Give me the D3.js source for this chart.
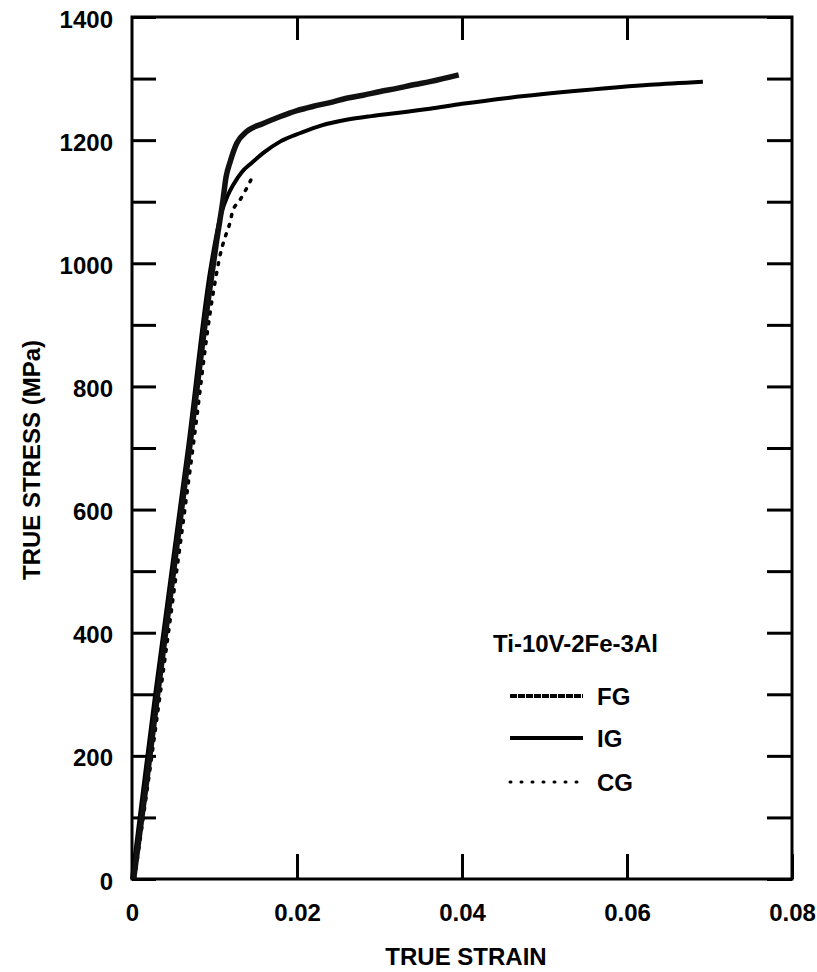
<!DOCTYPE html>
<html>
<head>
<meta charset="utf-8">
<script src="https://cdn.jsdelivr.net/npm/d3@7"></script>
<style>
  html, body { margin: 0; padding: 0; background: #fff; }
  svg { display: block; }
  text { font-family: "Liberation Sans", Arial, Helvetica, sans-serif; font-weight: bold; fill: #000; }
</style>
</head>
<body>
<svg id="chart" width="817" height="972"></svg>
<script>
// ---------- data ----------
const fgStrain = [0.0002, 0.0018, 0.0031, 0.0070, 0.0093, 0.0103, 0.0110, 0.0114, 0.0119, 0.0127, 0.0139, 0.0159, 0.0179, 0.0200, 0.0220, 0.0240, 0.0260, 0.0280, 0.0301, 0.0321, 0.0341, 0.0361, 0.0396];
const fgStress = [0, 161, 299, 702, 946, 1040, 1100, 1140, 1165, 1195, 1214, 1227, 1238, 1248, 1255, 1261, 1268, 1273, 1279, 1284, 1290, 1295, 1306];

const igStrain = [0.0000, 0.0018, 0.0028, 0.0068, 0.0095, 0.0108, 0.0116, 0.0123, 0.0133, 0.0145, 0.0160, 0.0180, 0.0205, 0.0230, 0.0260, 0.0290, 0.0321, 0.0361, 0.0400, 0.0458, 0.0547, 0.0628, 0.0692];
const igStress = [0, 193, 299, 702, 990, 1080, 1110, 1128, 1148, 1163, 1180, 1198, 1212, 1224, 1233, 1239, 1244, 1251, 1259, 1269, 1281, 1290, 1295];

const cgStrain = [0.0003, 0.0020, 0.0034, 0.0074, 0.0097, 0.0108, 0.0115, 0.0119, 0.0122, 0.0130, 0.0137, 0.0144];
const cgStress = [0, 161, 299, 702, 940, 1020, 1051, 1067, 1085, 1101, 1117, 1135];

const xTicks = [0, 0.02, 0.04, 0.06, 0.08];
const xTickLabels = ["0", "0.02", "0.04", "0.06", "0.08"];
const yTicks = [0, 100, 200, 300, 400, 500, 600, 700, 800, 900, 1000, 1100, 1200, 1300, 1400];
const yLabelStep = 200;

const legendTitle = "Ti-10V-2Fe-3Al";
const seriesNames = ["FG", "IG", "CG"];
const xTitle = "TRUE STRAIN";
const yTitle = "TRUE STRESS (MPa)";

// ---------- layout ----------
const svg = d3.select("#chart");
const m = { left: 132, top: 17, right: 25, bottom: 93 };
const W = 817 - m.left - m.right;   // 660
const H = 972 - m.top - m.bottom;   // 862

const x = d3.scaleLinear().domain([0, 0.08]).range([0, W]);
const y = d3.scaleLinear().domain([0, 1400]).range([H, 0]);

const g = svg.append("g").attr("transform", `translate(${m.left},${m.top})`);

// axes with inward ticks
const axLeft = d3.axisLeft(y).tickValues(yTicks).tickSize(-24).tickPadding(19)
  .tickFormat(d => d % yLabelStep === 0 ? String(d) : "");
const axRight = d3.axisRight(y).tickValues(yTicks).tickSize(-25).tickFormat("");
const axBottom = d3.axisBottom(x).tickValues(xTicks).tickSize(-25).tickPadding(25)
  .tickFormat((d, i) => xTickLabels[i]);
const axTop = d3.axisTop(x).tickValues(xTicks.slice(1, -1)).tickSize(-23).tickFormat("");

function styleAxis(sel) {
  sel.select(".domain").remove();
  sel.selectAll(".tick line").attr("stroke", "#000").attr("stroke-width", 3);
  sel.selectAll(".tick text").style("font-size", "24px").style("font-weight", "bold")
    .attr("fill", "#000");
}

g.append("g").call(axLeft).call(styleAxis).selectAll(".tick text").attr("dy", "0.42em");
g.append("g").attr("transform", `translate(${W},0)`).call(axRight).call(styleAxis);
g.append("g").attr("transform", `translate(0,${H})`).call(axBottom).call(styleAxis);
g.append("g").call(axTop).call(styleAxis);

// frame
g.append("rect").attr("x", 0).attr("y", 0).attr("width", W).attr("height", H)
  .attr("fill", "none").attr("stroke", "#000").attr("stroke-width", 3);

// curves
const line = d3.line().x(d => x(d[0])).y(d => y(d[1])).curve(d3.curveMonotoneX);
const fg = fgStrain.map((s, i) => [s, fgStress[i]]);
const ig = igStrain.map((s, i) => [s, igStress[i]]);
const cg = cgStrain.map((s, i) => [s, cgStress[i]]);

g.append("path").datum(cg).attr("d", line).attr("fill", "none").attr("stroke", "#000")
  .attr("stroke-width", 3.5).attr("stroke-linecap", "round").attr("stroke-dasharray", "2,8");
g.append("path").datum(ig).attr("d", line).attr("fill", "none").attr("stroke", "#000")
  .attr("stroke-width", 4);
g.append("path").datum(fg).attr("d", line).attr("fill", "none").attr("stroke", "#111")
  .attr("stroke-width", 5.5);

// titles
svg.append("text").attr("x", 466).attr("y", 965).attr("text-anchor", "middle")
  .style("font-size", "24px").text(xTitle);
svg.append("text").attr("transform", "translate(40,460) rotate(-90)").attr("text-anchor", "middle")
  .style("font-size", "24px").text(yTitle);

// legend
const lg = svg.append("g");
lg.append("text").attr("x", 493).attr("y", 652).style("font-size", "24px").text(legendTitle);
const legendY = [696, 738, 782];
const legendStyles = [
  { w: 4, dash: "7,1", cap: "butt" },
  { w: 4, dash: null, cap: "butt" },
  { w: 3, dash: "1,10", cap: "round" }
];
seriesNames.forEach((name, i) => {
  const st = legendStyles[i];
  const ln = lg.append("line").attr("x1", 510).attr("x2", 583)
    .attr("y1", legendY[i]).attr("y2", legendY[i])
    .attr("stroke", "#000").attr("stroke-width", st.w).attr("stroke-linecap", st.cap);
  if (st.dash) ln.attr("stroke-dasharray", st.dash);
  lg.append("text").attr("x", 597).attr("y", legendY[i] + 9).style("font-size", "24px").text(name);
});
</script>
</body>
</html>
